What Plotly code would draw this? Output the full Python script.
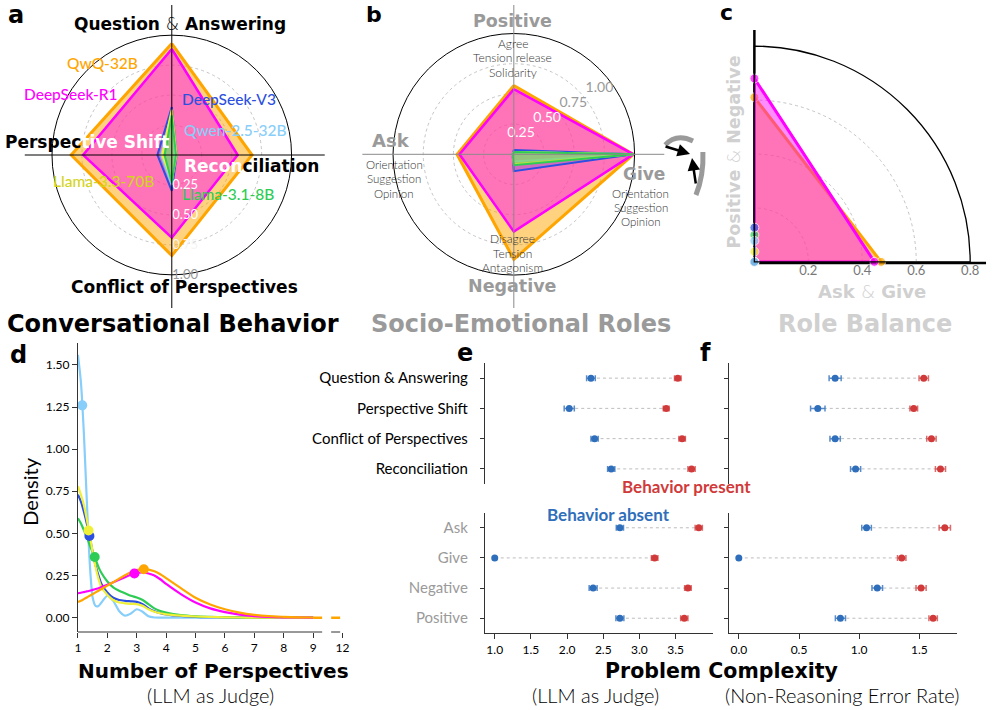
import plotly.graph_objects as go

W, H = 996, 710
FONT = "Lato, 'Open Sans', 'DejaVu Sans', sans-serif"
HEAVY = "'DejaVu Sans', Lato, sans-serif"


def px(x):
    return x / W


def py(y):
    return 1 - y / H


# ---------------- data ----------------
MODELS = ["QwQ-32B", "DeepSeek-R1", "DeepSeek-V3", "Qwen-2.5-32B", "Llama-3.3-70B", "Llama-3.1-8B"]
MODEL_COLORS = ["#FFA500", "#FF00FF", "#2B4FE0", "#87CEFA", "#F0F03A", "#2FCC55"]
MODEL_FILLS = ["rgba(255,165,0,0.5)", "rgba(255,0,255,0.45)", "rgba(43,79,224,0.22)",
               "rgba(135,206,250,0.45)", "rgba(240,240,58,0.45)", "rgba(47,204,85,0.35)"]
LABEL_COLORS = ["#FFA500", "#FF00FF", "#2B4FE0", "#87CEFA", "#D4D41C", "#2FCC55"]

# panel a: conversational behaviours
BEHAVIOR_AXES = ["Question & Answering", "Reconciliation", "Conflict of Perspectives", "Perspective Shift"]
QWQ_BEH = [0.93, 0.67, 0.84, 0.84]
R1_BEH = [0.885, 0.55, 0.69, 0.74]
V3_BEH = [0.40, 0.04, 0.30, 0.12]
QWEN_BEH = [0.35, 0.025, 0.25, 0.09]
L70_BEH = [0.38, 0.04, 0.21, 0.08]
L8_BEH = [0.33, 0.035, 0.23, 0.06]
BEH_VALUES = [QWQ_BEH, R1_BEH, V3_BEH, QWEN_BEH, L70_BEH, L8_BEH]

# panel b: socio-emotional roles
ROLE_AXES = ["Positive", "Give", "Negative", "Ask"]
QWQ_ROLE = [0.57, 0.99, 0.87, 0.47]
R1_ROLE = [0.54, 0.99, 0.64, 0.45]
V3_ROLE = [0.035, 0.99, 0.14, 0.01]
QWEN_ROLE = [0.02, 0.99, 0.06, 0.01]
L70_ROLE = [0.02, 0.99, 0.08, 0.01]
L8_ROLE = [0.02, 0.99, 0.09, 0.01]
ROLE_VALUES = [QWQ_ROLE, R1_ROLE, V3_ROLE, QWEN_ROLE, L70_ROLE, L8_ROLE]

# panel c: role balance
ASK_GIVE = [0.47, 0.445, 0.0, 0.0, 0.0, 0.0]
POS_NEG = [0.61, 0.68, 0.127, 0.078, 0.038, 0.10]

# panel d: density of number of perspectives
KDE_X = [1.0, 1.1, 1.2, 1.3, 1.4, 1.5, 1.6, 1.7, 1.8, 2.0, 2.2, 2.4, 2.6, 2.8, 3.0,
         3.2, 3.4, 3.6, 3.8, 4.0, 4.5, 5.0, 5.5, 6.0, 6.5, 7.0, 7.5, 8.0, 8.5, 9.0]
QWQ_KDE = [0.093, 0.10, 0.11, 0.12, 0.13, 0.14, 0.15, 0.16, 0.17, 0.19, 0.21, 0.232, 0.252, 0.27, 0.282,
           0.288, 0.285, 0.275, 0.258, 0.235, 0.175, 0.118, 0.078, 0.05, 0.03, 0.017, 0.009, 0.005, 0.002, 0.001]
R1_KDE = [0.145, 0.148, 0.152, 0.156, 0.16, 0.165, 0.17, 0.175, 0.182, 0.195, 0.21, 0.225, 0.24, 0.255, 0.265,
          0.268, 0.262, 0.25, 0.228, 0.20, 0.14, 0.09, 0.055, 0.033, 0.018, 0.009, 0.004, 0.002, 0.001, 0.0]
V3_KDE = [0.73, 0.69, 0.63, 0.56, 0.48, 0.39, 0.31, 0.25, 0.20, 0.15, 0.118, 0.105, 0.10, 0.097, 0.094,
          0.08, 0.055, 0.038, 0.027, 0.02, 0.01, 0.005, 0.003, 0.002, 0.001, 0.0, 0.0, 0.0, 0.0, 0.0]
QWEN_KDE = [1.56, 1.40, 1.10, 0.70, 0.33, 0.12, 0.07, 0.07, 0.09, 0.13, 0.10, 0.04, 0.012, 0.025, 0.05,
            0.035, 0.008, 0.001, 0.0, 0.0, 0.0, 0.0, 0.0, 0.0, 0.0, 0.0, 0.0, 0.0, 0.0, 0.0]
L70_KDE = [0.78, 0.73, 0.67, 0.585, 0.49, 0.39, 0.30, 0.23, 0.18, 0.135, 0.105, 0.09, 0.085, 0.082, 0.08,
           0.07, 0.05, 0.035, 0.026, 0.02, 0.012, 0.007, 0.004, 0.002, 0.001, 0.0, 0.0, 0.0, 0.0, 0.0]
L8_KDE = [0.59, 0.56, 0.52, 0.48, 0.43, 0.39, 0.345, 0.30, 0.265, 0.215, 0.18, 0.16, 0.145, 0.13, 0.12,
          0.105, 0.08, 0.055, 0.04, 0.03, 0.015, 0.008, 0.005, 0.003, 0.001, 0.0, 0.0, 0.0, 0.0, 0.0]
KDE_VALUES = [QWQ_KDE, R1_KDE, V3_KDE, QWEN_KDE, L70_KDE, L8_KDE]
KDE_PEAK_X = [3.24, 2.92, 1.39, 1.146, 1.36, 1.57]
KDE_PEAK_Y = [0.287, 0.262, 0.485, 1.26, 0.517, 0.36]
TAIL_X = [9, 10]
TAIL_Y = [0, 0]
D_TICKVALS = [1, 2, 3, 4, 5, 6, 7, 8, 9, 10]
D_TICKTEXT = ["1", "2", "3", "4", "5", "6", "7", "8", "9", "12"]

# panels e / f
BEHAVIORS = ["Question & Answering", "Perspective Shift", "Conflict of Perspectives", "Reconciliation"]
ROLES = ["Ask", "Give", "Negative", "Positive"]
E_BEH_ABSENT = [2.33, 2.03, 2.38, 2.61]
E_BEH_ABSENT_ERR = [0.06, 0.07, 0.05, 0.05]
E_BEH_PRESENT = [3.53, 3.37, 3.59, 3.72]
E_BEH_PRESENT_ERR = [0.045, 0.04, 0.045, 0.05]
E_ROLE_ABSENT = [2.73, 1.0, 2.36, 2.73]
E_ROLE_ABSENT_ERR = [0.05, 0.0, 0.055, 0.055]
E_ROLE_PRESENT = [3.82, 3.21, 3.67, 3.62]
E_ROLE_PRESENT_ERR = [0.05, 0.045, 0.045, 0.05]
F_BEH_ABSENT = [0.80, 0.656, 0.80, 0.97]
F_BEH_ABSENT_ERR = [0.05, 0.06, 0.043, 0.042]
F_BEH_PRESENT = [1.536, 1.453, 1.60, 1.675]
F_BEH_PRESENT_ERR = [0.039, 0.032, 0.039, 0.042]
F_ROLE_ABSENT = [1.061, 0.0, 1.15, 0.844]
F_ROLE_ABSENT_ERR = [0.04, 0.0, 0.044, 0.042]
F_ROLE_PRESENT = [1.711, 1.353, 1.514, 1.614]
F_ROLE_PRESENT_ERR = [0.047, 0.035, 0.042, 0.035]

BLUE = "#2F6EBA"
RED = "#D03A3A"

fig = go.Figure()

# ---------------- panel a ----------------
for i, vals in enumerate(BEH_VALUES):
    fig.add_trace(go.Scatterpolar(
        r=vals + [vals[0]], theta=BEHAVIOR_AXES + [BEHAVIOR_AXES[0]],
        mode="lines", fill="toself", fillcolor=MODEL_FILLS[i],
        line=dict(color=MODEL_COLORS[i], width=3 if i == 0 else (2.5 if i == 1 else 2)),
        subplot="polar", showlegend=False, name=MODELS[i]))

# ---------------- panel b ----------------
for i, vals in enumerate(ROLE_VALUES):
    fig.add_trace(go.Scatterpolar(
        r=vals + [vals[0]], theta=ROLE_AXES + [ROLE_AXES[0]],
        mode="lines", fill="toself", fillcolor=MODEL_FILLS[i],
        line=dict(color=MODEL_COLORS[i], width=3 if i == 0 else (2.5 if i == 1 else 2)),
        subplot="polar2", showlegend=False, name=MODELS[i]))

# ---------------- panel c ----------------
for i in [0, 1, 5, 4, 2, 3]:
    fig.add_trace(go.Scatterpolar(
        r=[0, ASK_GIVE[i], POS_NEG[i], 0], theta=[0, 0, 90, 90],
        mode="lines+markers", fill="toself", fillcolor=MODEL_FILLS[i],
        line=dict(color=MODEL_COLORS[i], width=3 if i < 2 else 2),
        marker=dict(size=[0, 9, 9, 0], color=MODEL_COLORS[i]),
        subplot="polar3", showlegend=False, name=MODELS[i]))

# ---------------- panel d ----------------
order = [3, 2, 5, 4, 1, 0]
for i in order:
    fig.add_trace(go.Scatter(
        x=KDE_X, y=KDE_VALUES[i], mode="lines",
        line=dict(color=MODEL_COLORS[i], width=2.2, shape="spline", smoothing=0.7),
        xaxis="x", yaxis="y", showlegend=False, name=MODELS[i]))
fig.add_trace(go.Scatter(x=TAIL_X, y=TAIL_Y, mode="lines",
                         line=dict(color=MODEL_COLORS[0], width=2.5, dash="dash"),
                         xaxis="x", yaxis="y", showlegend=False))
for i in order:
    fig.add_trace(go.Scatter(
        x=[KDE_PEAK_X[i]], y=[KDE_PEAK_Y[i]], mode="markers",
        marker=dict(color=MODEL_COLORS[i], size=10),
        xaxis="x", yaxis="y", showlegend=False))


# ---------------- panels e / f ----------------
def dot_panel(xa, ya, cats, absent, absent_err, present, present_err):
    cx, cy = [], []
    for c, a, p in zip(cats, absent, present):
        cx += [a, p, None]
        cy += [c, c, None]
    fig.add_trace(go.Scatter(x=cx, y=cy, mode="lines",
                             line=dict(color="#bdbdbd", width=1, dash="dot"),
                             xaxis=xa, yaxis=ya, showlegend=False, hoverinfo="skip"))
    fig.add_trace(go.Scatter(x=absent, y=cats, mode="markers",
                             marker=dict(color=BLUE, size=7),
                             error_x=dict(type="data", array=absent_err, color="rgba(47,110,186,0.8)",
                                          thickness=1.5, width=3),
                             xaxis=xa, yaxis=ya, showlegend=False))
    fig.add_trace(go.Scatter(x=present, y=cats, mode="markers",
                             marker=dict(color=RED, size=7),
                             error_x=dict(type="data", array=present_err, color="rgba(208,58,58,0.75)",
                                          thickness=1.5, width=3),
                             xaxis=xa, yaxis=ya, showlegend=False))


dot_panel("x2", "y2", BEHAVIORS, E_BEH_ABSENT, E_BEH_ABSENT_ERR, E_BEH_PRESENT, E_BEH_PRESENT_ERR)
dot_panel("x3", "y3", ROLES, E_ROLE_ABSENT, E_ROLE_ABSENT_ERR, E_ROLE_PRESENT, E_ROLE_PRESENT_ERR)
dot_panel("x4", "y4", BEHAVIORS, F_BEH_ABSENT, F_BEH_ABSENT_ERR, F_BEH_PRESENT, F_BEH_PRESENT_ERR)
dot_panel("x5", "y5", ROLES, F_ROLE_ABSENT, F_ROLE_ABSENT_ERR, F_ROLE_PRESENT, F_ROLE_PRESENT_ERR)

# ---------------- layout ----------------
GRID = "#c4c4c4"
tickf = dict(family=FONT, size=12, color="black")
SP = "&nbsp;" * 5

layout = dict(
    width=W, height=H, margin=dict(l=0, r=0, t=0, b=0),
    paper_bgcolor="white", plot_bgcolor="rgba(0,0,0,0)",
    font=dict(family=FONT, color="black"),
    polar=dict(
        domain=dict(x=[px(49.5), px(291.5)], y=[py(276), py(34)]),
        bgcolor="rgba(0,0,0,0)",
        angularaxis=dict(type="category", categoryorder="array", categoryarray=BEHAVIOR_AXES,
                         rotation=90, direction="clockwise", showline=True, linecolor="black",
                         linewidth=1, showgrid=False, ticks="", showticklabels=False),
        radialaxis=dict(range=[0, 1], tickvals=[0.25, 0.5, 0.75, 1.0],
                        ticktext=["<span style='color:white'>0.25</span>",
                                  "<span style='color:white'>0.50</span>",
                                  "<span style='color:#f4f4f4'>0.75</span>",
                                  "<span style='color:#999999'>1.00</span>"],
                        angle=270, tickangle=-90, side="counterclockwise", showline=False, ticks="",
                        gridcolor=GRID, griddash="dot", gridwidth=1,
                        tickfont=dict(family=FONT, size=13, color="white")),
    ),
    polar2=dict(
        domain=dict(x=[px(394), px(638)], y=[py(276.3), py(32.3)]),
        bgcolor="rgba(0,0,0,0)",
        angularaxis=dict(type="category", categoryorder="array", categoryarray=ROLE_AXES,
                         rotation=90, direction="clockwise", showline=True, linecolor="black",
                         linewidth=1, showgrid=False, ticks="", showticklabels=False),
        radialaxis=dict(range=[0, 1], tickvals=[0.25, 0.5, 0.75, 1.0],
                        ticktext=[SP + "<span style='color:white'>0.25</span>",
                                  SP + "<span style='color:white'>0.50</span>",
                                  SP + "<span style='color:#999999'>0.75</span>",
                                  SP + "<span style='color:#999999'>1.00</span>"],
                        angle=30, tickangle=30, side="counterclockwise", showline=False, ticks="",
                        gridcolor=GRID, griddash="dot", gridwidth=1,
                        tickfont=dict(family=FONT, size=14, color="#999999")),
    ),
    polar3=dict(
        domain=dict(x=[px(759), px(977)], y=[py(263), py(45)]),
        sector=[0, 90],
        bgcolor="rgba(0,0,0,0)",
        angularaxis=dict(rotation=0, direction="counterclockwise", showline=True, linecolor="black",
                         linewidth=1.3, showgrid=False, ticks="", showticklabels=False),
        radialaxis=dict(range=[0, 0.8], tickvals=[0.2, 0.4, 0.6, 0.8],
                        ticktext=["0.2", "0.4", "0.6", "0.8"],
                        angle=0, side="clockwise", showline=False, ticks="",
                        gridcolor=GRID, griddash="dot", gridwidth=1,
                        tickfont=dict(family=FONT, size=13, color="#777777")),
    ),
    xaxis=dict(domain=[px(75.7), px(343)], range=[1, 10], anchor="y",
               tickvals=D_TICKVALS, ticktext=D_TICKTEXT, ticks="outside", ticklen=5,
               tickcolor="#333", showline=False, showgrid=False, zeroline=False, tickfont=tickf),
    yaxis=dict(domain=[py(632), py(343)], range=[-0.085, 1.63], anchor="x",
               tickvals=[0, 0.25, 0.5, 0.75, 1.0, 1.25, 1.5], tickformat=".2f",
               ticks="outside", ticklen=5, tickcolor="#333", showline=True, linecolor="#333",
               showgrid=False, zeroline=False, tickfont=tickf),
)

for n, xd, xr, yd, cats, show_x, tick_lbl, lblcolor in [
    (2, [px(486.7), px(716.7)], [0.863, 4.01], [py(484), py(363)], BEHAVIORS, False, True, "black"),
    (3, [px(486.7), px(716.7)], [0.863, 4.01], [py(633.3), py(512.7)], ROLES, True, True, "#9a9a9a"),
    (4, [px(733.3), px(964)], [-0.082, 1.815], [py(484), py(363)], BEHAVIORS, False, False, "black"),
    (5, [px(733.3), px(964)], [-0.082, 1.815], [py(633.3), py(512.7)], ROLES, True, False, "black"),
]:
    if n in (2, 3):
        tv = [1.0, 1.5, 2.0, 2.5, 3.0, 3.5]
    else:
        tv = [0.0, 0.5, 1.0, 1.5]
    layout[f"xaxis{n}"] = dict(domain=xd, range=xr, anchor=f"y{n}", showgrid=False, zeroline=False,
                               showline=show_x, linecolor="#333", ticks="outside" if show_x else "",
                               ticklen=5, tickcolor="#333", showticklabels=show_x,
                               tickvals=tv, tickformat=".1f", tickfont=tickf)
    layout[f"yaxis{n}"] = dict(domain=yd, anchor=f"x{n}", type="category", categoryorder="array",
                               categoryarray=cats, range=[3.5, -0.5], showgrid=False, zeroline=False,
                               showline=True, linecolor="#333", ticks="outside", ticklen=4,
                               tickcolor="#333", showticklabels=tick_lbl, ticklabelstandoff=9,
                               tickfont=dict(family=FONT, size=15, color=lblcolor))

fig.update_layout(**layout)

# ---------------- shapes ----------------
shapes = []


def pline(x0, y0, x1, y1, color="black", width=1, dash=None, layer="above"):
    shapes.append(dict(type="line", xref="paper", yref="paper", x0=px(x0), y0=py(y0), x1=px(x1), y1=py(y1),
                       line=dict(color=color, width=width, dash=dash), layer=layer))


# panel a crosshair
pline(22, 155, 325, 155)
pline(170.5, 5, 170.5, 308)
# panel b crosshair
pline(363, 154.3, 668, 154.3, color="#8a8a8a")
pline(516, 5, 516, 308, color="#8a8a8a")
# panel c axes
pline(759, 263, 993, 263, width=2.5, layer="below")
pline(759, 263, 759, 30, width=2.5, layer="below")
# panel d broken x-axis
shapes.append(dict(type="line", xref="x", yref="y domain", x0=1, x1=9, y0=0, y1=0,
                   line=dict(color="#333", width=1)))
shapes.append(dict(type="line", xref="x", yref="y domain", x0=9, x1=10, y0=0, y1=0,
                   line=dict(color="#333", width=1, dash="dash")))


# icon between b and c
def ppath(d, color, width):
    shapes.append(dict(type="path", xref="paper", yref="paper", path=d,
                       line=dict(color=color, width=width)))


def P(x, y):
    return f"{px(x):.5f},{py(y):.5f}"


ppath(f"M {P(669,145)} Q {P(680,133)} {P(697,141)}", "#9a9a9a", 5)
ppath(f"M {P(707,152)} Q {P(708,175)} {P(700,195)}", "#9a9a9a", 5)
fig.update_layout(shapes=shapes)

fig.add_annotation(x=px(694), y=py(154), ax=-26, ay=-8, xref="paper", yref="paper",
                   showarrow=True, arrowhead=2, arrowsize=1,
                   arrowwidth=2.5, arrowcolor="black", text="")
fig.add_annotation(x=px(696), y=py(158), ax=4, ay=27, xref="paper", yref="paper",
                   showarrow=True, arrowhead=2, arrowsize=1,
                   arrowwidth=2.5, arrowcolor="black", text="")


# ---------------- text ----------------
def ann(x, y, text, size, color="black", weight=400, xanchor="center", textangle=0, family=FONT):
    fig.add_annotation(x=px(x), y=py(y), xref="paper", yref="paper", text=text, showarrow=False,
                       font=dict(family=family, size=size, color=color, weight=weight),
                       xanchor=xanchor, yanchor="middle", textangle=textangle)


def heavy(x, y, text, size, color="black", textangle=0):
    ann(x, y, text, size, color=color, weight=700, textangle=textangle, family=HEAVY)


AMP = "<span style='font-weight:300'>&amp;</span>"

# panel letters
heavy(13, 15, "a", 24)
heavy(375, 15, "b", 22)
heavy(731, 13, "c", 22)
heavy(16, 355, "d", 24)
heavy(467, 353, "e", 24)
heavy(710, 353, "f", 24)

# panel a texts
heavy(179, 24, f"Question {AMP} Answering", 17)
heavy(85, 142, "Perspec<span style='color:white'>tive Shift</span>", 17)
heavy(251, 166, "<span style='color:white'>Recon</span>ciliation", 17)
heavy(183, 287, "Conflict of Perspectives", 17)
heavy(172, 324, "Conversational Behavior", 24)
label_pos = [(101, 63), (69, 94), (228, 99), (235, 130), (102, 181), (227, 194)]
for i, (lx, ly) in enumerate(label_pos):
    ann(lx, ly, MODELS[i], 15.5, color=LABEL_COLORS[i], weight=500)

# panel b texts
GREYB = "#9a9a9a"
heavy(515, 21, "Positive", 17.5, color=GREYB)
ann(515, 43, "Agree", 12, color="#333", weight=300)
ann(515, 57, "Tension release", 12, color="#333", weight=300)
ann(515, 73, "Solidarity", 12, color="#333", weight=300)
heavy(392, 141, "Ask", 18, color=GREYB)
ann(395, 164, "Orientation", 11.5, color="#333", weight=300)
ann(395, 178, "Suggestion", 11.5, color="#333", weight=300)
ann(395, 193, "Opinion", 11.5, color="#333", weight=300)
heavy(648, 174, "Give", 17, color=GREYB)
ann(644, 193, "Orientation", 11.5, color="#333", weight=300)
ann(644, 207, "Suggestion", 11.5, color="#333", weight=300)
ann(644, 221, "Opinion", 11.5, color="#333", weight=300)
heavy(515, 286, "Negative", 17.5, color=GREYB)
ann(515, 238, "Disagree", 12, color="#333", weight=300)
ann(515, 254, "Tension", 12, color="#333", weight=300)
ann(515, 268, "Antagonism", 12, color="#333", weight=300)
heavy(523, 324, "Socio-Emotional Roles", 24, color=GREYB)

# panel c texts
GREYC = "#d0d0d0"
heavy(738, 152, f"Positive {AMP} Negative", 17.5, color=GREYC, textangle=-90)
heavy(878, 291, f"Ask {AMP} Give", 18, color=GREYC)
heavy(871, 324, "Role Balance", 24, color=GREYC)

# panel d texts
ann(27, 492, "Density", 20, textangle=-90)
heavy(213, 671, "Number of Perspectives", 20)
ann(210, 695, "(LLM as Judge)", 20, weight=300)

# panels e / f texts
ann(690, 486, "Behavior present", 17, color=RED, weight=700)
ann(612, 514, "Behavior absent", 17, color=BLUE, weight=700)
heavy(726, 671, "Problem Complexity", 20.5)
ann(599, 695, "(LLM as Judge)", 20, weight=300)
ann(848, 695, "(Non-Reasoning Error Rate)", 20, weight=300)

fig.write_html("out.html", config={"displayModeBar": False},
               post_script="document.body.style.margin='0px';document.body.style.overflow='hidden';")
